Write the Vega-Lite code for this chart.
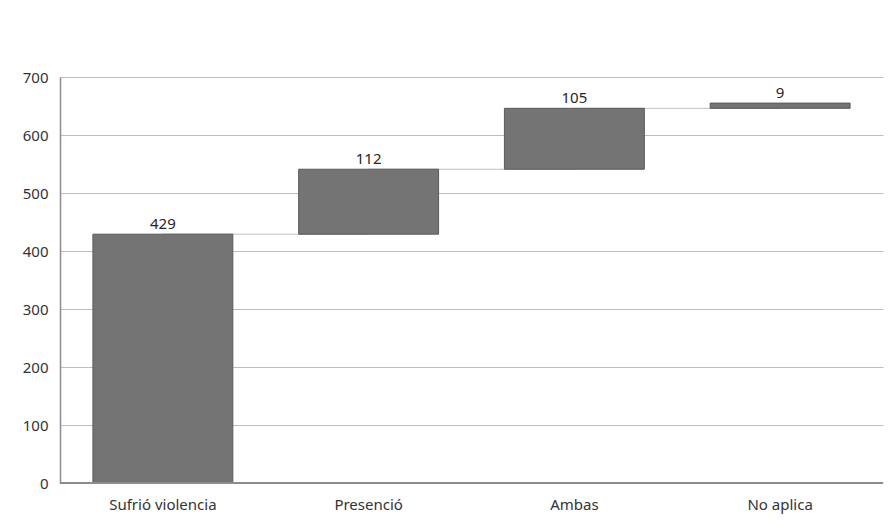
{
  "$schema": "https://vega.github.io/schema/vega-lite/v6.json",
  "width": 823,
  "height": 406,
  "autosize": {"type": "none"},
  "padding": {"left": 60, "top": 77, "right": 8, "bottom": 43},
  "background": "white",
  "config": {
    "view": {"stroke": null},
    "font": "Noto Sans",
    "axis": {"labelFont": "Noto Sans", "labelFontSize": 15, "labelColor": "#333333"}
  },
  "data": {
    "values": [
      {"cat": "Sufrió violencia", "value": 429, "start": 0, "end": 429, "next": "Presenció"},
      {"cat": "Presenció", "value": 112, "start": 429, "end": 541, "next": "Ambas"},
      {"cat": "Ambas", "value": 105, "start": 541, "end": 646, "next": "No aplica"},
      {"cat": "No aplica", "value": 9, "start": 646, "end": 655, "next": null}
    ]
  },
  "encoding": {
    "x": {
      "field": "cat",
      "type": "nominal",
      "sort": null,
      "scale": {"paddingInner": 0.32, "paddingOuter": 0.16},
      "axis": {"title": null, "labelAngle": 0, "ticks": false, "domain": false, "labelPadding": 14}
    }
  },
  "layer": [
    {
      "mark": {"type": "rule", "color": "#c0c0c0", "strokeWidth": 1},
      "transform": [{"filter": "datum.next != null"}],
      "encoding": {
        "x2": {"field": "next"},
        "y": {"field": "end", "type": "quantitative"}
      }
    },
    {
      "mark": {"type": "bar", "fill": "#747474", "stroke": "#5a5a5a", "strokeWidth": 1},
      "encoding": {
        "y": {
          "field": "start",
          "type": "quantitative",
          "scale": {"domain": [0, 700]},
          "axis": {
            "title": null,
            "values": [0, 100, 200, 300, 400, 500, 600, 700],
            "grid": true,
            "gridColor": "#bdbdbd",
            "domainColor": "#8c8c8c",
            "domainWidth": 1.5,
            "ticks": false,
            "labelPadding": 12
          }
        },
        "y2": {"field": "end"}
      }
    },
    {
      "mark": {"type": "rule", "color": "#8c8c8c", "strokeWidth": 1.5},
      "encoding": {"y": {"datum": 0, "type": "quantitative"}, "x": {"value": 0}, "x2": {"value": 823}}
    },
    {
      "mark": {"type": "text", "baseline": "bottom", "dy": -2, "fontSize": 15, "color": "#262626"},
      "encoding": {
        "y": {"field": "end", "type": "quantitative"},
        "text": {"field": "value", "type": "quantitative"}
      }
    }
  ]
}
